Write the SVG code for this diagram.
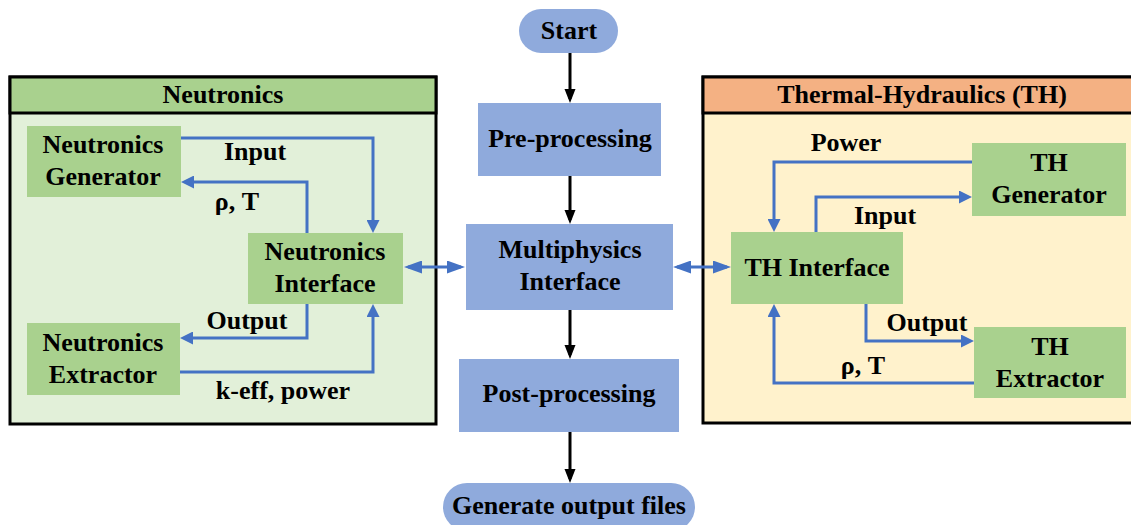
<svg xmlns="http://www.w3.org/2000/svg" width="1131" height="525" viewBox="0 0 1131 525">
<style>
text{font-family:"Liberation Serif","Times New Roman",serif;font-weight:bold;font-size:26px;fill:#000;text-anchor:middle}
.gn{fill:#A9D18E}
.bl{fill:#8FAADC}
.c{fill:none;stroke:#4472C4;stroke-width:3}
.k{fill:none;stroke:#000;stroke-width:3}
.pb{stroke:#000;stroke-width:3}
</style>
<defs>
<marker id="ab" markerUnits="userSpaceOnUse" markerWidth="14" markerHeight="13" refX="9" refY="6.5" orient="auto-start-reverse"><path d="M0,0 L13,6.5 L0,13 z" fill="#4472C4"/></marker>
<marker id="ad" markerUnits="userSpaceOnUse" markerWidth="19" markerHeight="13" refX="14" refY="6.5" orient="auto-start-reverse"><path d="M0,0 L18,6.5 L0,13 z" fill="#4472C4"/></marker>
<marker id="ak" markerUnits="userSpaceOnUse" markerWidth="15" markerHeight="12" refX="10" refY="5.5" orient="auto"><path d="M0,0 L14,5.5 L0,11 z" fill="#000"/></marker>
</defs>
<rect width="1131" height="525" fill="#fff"/>
<g id="neutronics-panel">
<rect x="10" y="77" width="426" height="347" fill="#E2F0D9" class="pb"/>
<rect x="10" y="77" width="426" height="36" fill="#A9D18E" class="pb"/>
<text x="223" y="103">Neutronics</text>
</g>
<g id="th-panel">
<rect x="703" y="77" width="432" height="346" fill="#FFF2CC" class="pb"/>
<rect x="703" y="77" width="432" height="36" fill="#F4B183" class="pb"/>
<text x="922" y="103">Thermal-Hydraulics (TH)</text>
</g>
<g id="neutronics-generator"><rect class="gn" x="27" y="126" width="154" height="71"/><text x="103" y="153">Neutronics</text><text x="103" y="185">Generator</text></g>
<g id="neutronics-interface"><rect class="gn" x="248" y="233" width="155" height="71"/><text x="325" y="260">Neutronics</text><text x="325" y="292">Interface</text></g>
<g id="neutronics-extractor"><rect class="gn" x="27" y="323" width="153" height="72"/><text x="103" y="351">Neutronics</text><text x="103" y="383">Extractor</text></g>
<g id="th-generator"><rect class="gn" x="972" y="143" width="154" height="73"/><text x="1049" y="171">TH</text><text x="1049" y="203">Generator</text></g>
<g id="th-interface"><rect class="gn" x="731" y="232" width="172" height="72"/><text x="817" y="276">TH Interface</text></g>
<g id="th-extractor"><rect class="gn" x="974" y="327" width="152" height="71"/><text x="1050" y="355">TH</text><text x="1050" y="387">Extractor</text></g>
<g id="start"><rect class="bl" x="519" y="9" width="99" height="44" rx="22"/><text x="569" y="39">Start</text></g>
<g id="pre-processing"><rect class="bl" x="478" y="103" width="183" height="73"/><text x="570" y="147">Pre-processing</text></g>
<g id="multiphysics-interface"><rect class="bl" x="466" y="224" width="207" height="86"/><text x="570" y="258">Multiphysics</text><text x="570" y="290">Interface</text></g>
<g id="post-processing"><rect class="bl" x="459" y="359" width="220" height="73"/><text x="569" y="402">Post-processing</text></g>
<g id="generate-output"><rect class="bl" x="443" y="483" width="252" height="48" rx="24"/><text x="569" y="514">Generate output files</text></g>
<g id="connectors">
<path class="c" d="M181,138 H373 V229" marker-end="url(#ab)"/>
<path class="c" d="M307,233 V182 H185" marker-end="url(#ab)"/>
<path class="c" d="M307,304 V338 H184" marker-end="url(#ab)"/>
<path class="c" d="M180,372 H373 V308" marker-end="url(#ab)"/>
<path class="c" d="M408,267 H461" marker-start="url(#ad)" marker-end="url(#ad)"/>
<path class="c" d="M677,267 H727" marker-start="url(#ad)" marker-end="url(#ad)"/>
<path class="c" d="M972,162 H774 V228" marker-end="url(#ab)"/>
<path class="c" d="M816,232 V197 H968" marker-end="url(#ab)"/>
<path class="c" d="M866,304 V341 H970" marker-end="url(#ab)"/>
<path class="c" d="M974,383 H774 V308" marker-end="url(#ab)"/>
<path class="k" d="M570,53 V99" marker-end="url(#ak)"/>
<path class="k" d="M570,176 V220" marker-end="url(#ak)"/>
<path class="k" d="M570,310 V355" marker-end="url(#ak)"/>
<path class="k" d="M570,432 V479" marker-end="url(#ak)"/>
<text x="255" y="160">Input</text>
<text x="237" y="210">ρ, T</text>
<text x="247" y="329">Output</text>
<text x="283" y="399">k-eff, power</text>
<text x="846" y="151">Power</text>
<text x="885" y="224">Input</text>
<text x="927" y="331">Output</text>
<text x="863" y="374">ρ, T</text>
</g>
</svg>
